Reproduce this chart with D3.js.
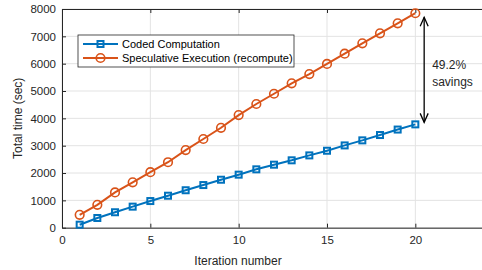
<!DOCTYPE html>
<html lang="en">
<head>
  <meta charset="UTF-8">
  <title>Total time vs iteration</title>
  <script src="https://d3js.org/d3.v7.min.js"></script>
  <style>
    body { margin: 0; background: #fff; }
    svg { display: block; font-family: "Liberation Sans", Arial, sans-serif; }
    .axis text { font-size: 11.5px; fill: #262626; }
    .axis path, .axis line { stroke: #262626; }
    .grid line { stroke: #e3e3e3; }
    .label { font-size: 12px; fill: #262626; }
  </style>
</head>
<body>
  <svg id="chart"></svg>
  <script>
    // values
    const iterations = [1, 2, 3, 4, 5, 6, 7, 8, 9, 10, 11, 12, 13, 14, 15, 16, 17, 18, 19, 20];
    const coded = [110, 355, 565, 770, 975, 1170, 1370, 1560, 1755, 1940, 2135, 2305, 2465, 2645, 2815, 3010, 3195, 3390, 3590, 3780];
    const speculative = [470, 835, 1290, 1660, 2030, 2395, 2840, 3245, 3655, 4120, 4525, 4900, 5280, 5620, 5990, 6365, 6745, 7110, 7475, 7845];
    const seriesNames = ["Coded Computation", "Speculative Execution (recompute)"];
    const xTicks = [0, 5, 10, 15, 20];
    const yTicks = [0, 1000, 2000, 3000, 4000, 5000, 6000, 7000, 8000];

    const W = 482, H = 270;
    const margin = { top: 9, left: 62 };
    const plotW = 424, plotH = 218.7;

    const svg = d3.select("#chart").attr("width", W).attr("height", H);
    const g = svg.append("g").attr("transform", `translate(${margin.left},${margin.top})`);

    const x = d3.scaleLinear().domain([0, 24]).range([0, plotW]);
    const y = d3.scaleLinear().domain([0, 8000]).range([plotH, 0]);

    // grid
    g.append("g").attr("class", "grid")
      .selectAll("line.h").data(yTicks).enter().append("line")
      .attr("x1", 0).attr("x2", plotW)
      .attr("y1", d => y(d)).attr("y2", d => y(d));
    g.append("g").attr("class", "grid")
      .selectAll("line.v").data(xTicks).enter().append("line")
      .attr("y1", 0).attr("y2", plotH)
      .attr("x1", d => x(d)).attr("x2", d => x(d));

    // axes, ticks pointing inward like matlab
    g.append("g").attr("class", "axis")
      .attr("transform", `translate(0,${plotH})`)
      .call(d3.axisBottom(x).tickValues(xTicks).tickSizeInner(-4).tickSizeOuter(0).tickPadding(8));
    g.append("g").attr("class", "axis")
      .call(d3.axisLeft(y).tickValues(yTicks).tickFormat(d3.format("d"))
        .tickSizeInner(-4).tickSizeOuter(0).tickPadding(6));
    g.append("g").attr("class", "axis")
      .call(d3.axisTop(x).tickValues(xTicks).tickSizeInner(-4).tickSizeOuter(0).tickFormat(""));
    g.append("g").attr("class", "axis")
      .attr("transform", `translate(${plotW},0)`)
      .call(d3.axisRight(y).tickValues(yTicks).tickSizeInner(-4).tickSizeOuter(0).tickFormat(""));

    const line = d3.line().x((d, i) => x(iterations[i])).y(d => y(d));

    // coded computation (blue squares)
    g.append("path").datum(coded)
      .attr("fill", "none").attr("stroke", "#0072BD").attr("stroke-width", 2)
      .attr("d", line);
    g.selectAll(".sq").data(coded).enter().append("rect")
      .attr("x", (d, i) => x(iterations[i]) - 3).attr("y", d => y(d) - 3)
      .attr("width", 6).attr("height", 6)
      .attr("fill", "none").attr("stroke", "#0072BD").attr("stroke-width", 2);

    // speculative execution (orange circles)
    g.append("path").datum(speculative)
      .attr("fill", "none").attr("stroke", "#D95319").attr("stroke-width", 2)
      .attr("d", line);
    g.selectAll(".ci").data(speculative).enter().append("circle")
      .attr("cx", (d, i) => x(iterations[i])).attr("cy", d => y(d))
      .attr("r", 4.3)
      .attr("fill", "none").attr("stroke", "#D95319").attr("stroke-width", 1.6);

    // savings arrow
    const ax = x(20.5);
    const y1 = y(speculative[19]) + 4, y2 = y(coded[19]) - 2;
    const arrow = g.append("g").attr("stroke", "#000").attr("stroke-width", 1.3).attr("fill", "none");
    arrow.append("line").attr("x1", ax).attr("x2", ax).attr("y1", y1).attr("y2", y2);
    arrow.append("path").attr("d", `M${ax - 4},${y1 + 9} L${ax},${y1} L${ax + 4},${y1 + 9}`);
    arrow.append("path").attr("d", `M${ax - 4},${y2 - 9} L${ax},${y2} L${ax + 4},${y2 - 9}`);
    g.append("text").attr("class", "label").attr("x", ax + 8).attr("y", y(5800))
      .text("49.2%");
    g.append("text").attr("class", "label").attr("x", ax + 8).attr("y", y(5180))
      .text("savings");

    // legend
    const lg = svg.append("g").attr("transform", "translate(78,35)");
    lg.append("rect").attr("width", 216).attr("height", 32)
      .attr("fill", "#fff").attr("stroke", "#262626").attr("stroke-width", 0.8);
    const colors = ["#0072BD", "#D95319"];
    seriesNames.forEach((name, i) => {
      const yy = 9 + i * 14;
      lg.append("line").attr("x1", 5).attr("x2", 40).attr("y1", yy).attr("y2", yy)
        .attr("stroke", colors[i]).attr("stroke-width", 2);
      if (i === 0) {
        lg.append("rect").attr("x", 19.5).attr("y", yy - 3).attr("width", 6).attr("height", 6)
          .attr("fill", "none").attr("stroke", colors[i]).attr("stroke-width", 2);
      } else {
        lg.append("circle").attr("cx", 22.5).attr("cy", yy).attr("r", 4.3)
          .attr("fill", "none").attr("stroke", colors[i]).attr("stroke-width", 1.6);
      }
      lg.append("text").attr("x", 44).attr("y", yy + 4)
        .attr("font-size", "11px").attr("fill", "#000").text(name);
    });

    // axis titles
    svg.append("text").attr("class", "label")
      .attr("x", 238).attr("y", 265).attr("text-anchor", "middle")
      .text("Iteration number");
    svg.append("text").attr("class", "label")
      .attr("transform", `translate(22,${margin.top + plotH / 2}) rotate(-90)`)
      .attr("text-anchor", "middle")
      .text("Total time (sec)");
  </script>
</body>
</html>
